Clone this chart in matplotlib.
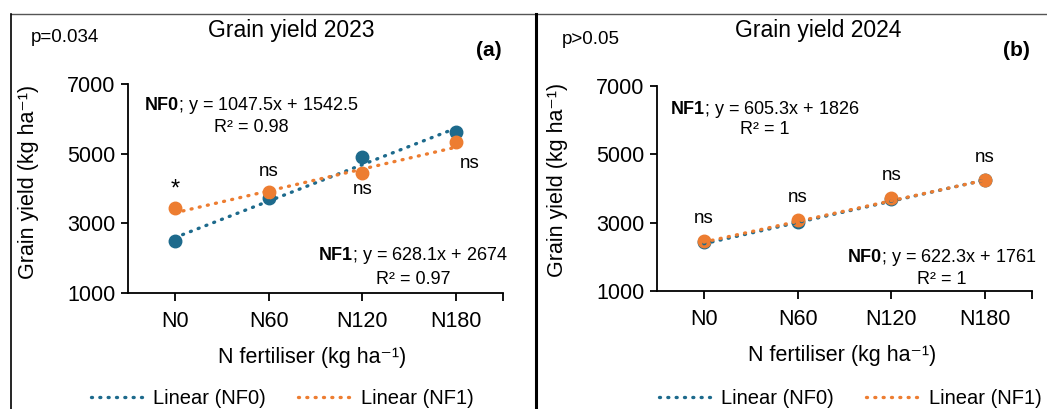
import matplotlib.pyplot as plt
from matplotlib.lines import Line2D
import numpy as np

plt.rcParams['font.family'] = ['Liberation Sans', 'DejaVu Sans']
plt.rcParams['mathtext.fontset'] = 'custom'
plt.rcParams['mathtext.rm'] = 'Liberation Sans'
plt.rcParams['mathtext.bf'] = 'Liberation Sans:bold'

# data
categories = ['N0', 'N60', 'N120', 'N180']
nf0_2023 = [2490, 3740, 4900, 5610]
nf1_2023 = [3440, 3890, 4450, 5330]
nf0_2024 = [2430, 3020, 3680, 4250]
nf1_2024 = [2470, 3080, 3720, 4260]

# trendline coefficients (slope, intercept) as printed on the chart
fit_nf0_2023 = (1047.5, 1542.5)
fit_nf1_2023 = (628.1, 2674)
fit_nf0_2024 = (622.3, 1761)
fit_nf1_2024 = (605.3, 1826)

sig_2023 = ['*', 'ns', 'ns', 'ns']
sig_2024 = ['ns', 'ns', 'ns', 'ns']

BLUE = '#1d6a8c'
ORANGE = '#ed7d31'

W, H = 1047, 409
fig = plt.figure(figsize=(W / 100, H / 100), dpi=100)


def px(x, y):
    return x / W, 1 - y / H


def draw_panel(ax, nf0, nf1, fit0, fit1):
    x = np.arange(1, len(categories) + 1)
    xx = np.array([x[0], x[-1]])
    dots = dict(lw=2.4, dashes=(0.3, 2.2), dash_capstyle='round')
    ax.plot(x, nf0, 'o', color=BLUE, ms=9, zorder=3)
    ax.plot(x, nf1, 'o', color=ORANGE, ms=9, zorder=4)
    ax.plot(xx, fit0[0] * xx + fit0[1], color=BLUE, zorder=5, **dots)
    ax.plot(xx, fit1[0] * xx + fit1[1], color=ORANGE, zorder=6, **dots)
    ax.set_xlim(0.5, 4.5)
    ax.set_ylim(1000, 7000)
    ax.set_yticks([1000, 3000, 5000, 7000])
    ax.set_xticks(x)
    ax.set_xticks([4.5], minor=True)
    ax.set_xticklabels(categories)
    for s in ['top', 'right']:
        ax.spines[s].set_visible(False)
    for s in ['left', 'bottom']:
        ax.spines[s].set_linewidth(1.3)
    ax.tick_params(axis='y', length=5, width=1.3, pad=4, labelsize=15.5)
    ax.tick_params(axis='x', which='both', length=6, width=1.3, pad=7, labelsize=15.5)
    ax.set_facecolor('none')


ax1 = fig.add_axes([128 / W, 116 / H, 375 / W, 209 / H])
draw_panel(ax1, nf0_2023, nf1_2023, fit_nf0_2023, fit_nf1_2023)
ax2 = fig.add_axes([657 / W, 118 / H, 375 / W, 205 / H])
draw_panel(ax2, nf0_2024, nf1_2024, fit_nf0_2024, fit_nf1_2024)

# significance labels (offsets in points)
off_2023 = [(0, 13), (0, 15), (0, -12), (10, -15)]
for i, (lab, off, yv) in enumerate(zip(sig_2023, off_2023, nf1_2023)):
    ax1.annotate(lab, (i + 1, yv), xytext=off, textcoords='offset points',
                 ha='center', va='center', fontsize=17 if lab == '*' else 13.5)
for i, (lab, yv) in enumerate(zip(sig_2024, nf1_2024)):
    ax2.annotate(lab, (i + 1, yv), xytext=(0, 16), textcoords='offset points',
                 ha='center', va='center', fontsize=13.5)

# equations
eq_fs = 13
eqs = [
    (251, 106, r'$\mathbf{NF0}$; y = 1047.5x + 1542.5', 128, 'R² = 0.98'),
    (413, 255, r'$\mathbf{NF1}$; y = 628.1x + 2674', 279, 'R² = 0.97'),
    (765, 109, r'$\mathbf{NF1}$; y = 605.3x + 1826', 130, 'R² = 1'),
    (942, 258, r'$\mathbf{NF0}$; y = 622.3x + 1761', 280, 'R² = 1'),
]
for cx, y1, t1, y2, t2 in eqs:
    fig.text(*px(cx, y1), t1, ha='center', va='center', fontsize=eq_fs)
    fig.text(*px(cx, y2), t2, ha='center', va='center', fontsize=eq_fs)

# titles and labels
fig.text(*px(291, 30), 'Grain yield 2023', ha='center', va='center', fontsize=16.5)
fig.text(*px(818, 30), 'Grain yield 2024', ha='center', va='center', fontsize=16.5)
fig.text(*px(31, 38), 'p=0.034', ha='left', va='center', fontsize=13.5)
fig.text(*px(562, 40), 'p>0.05', ha='left', va='center', fontsize=13.5)
fig.text(*px(502, 50), '(a)', ha='right', va='center', fontsize=15, fontweight='bold')
fig.text(*px(1030, 50), '(b)', ha='right', va='center', fontsize=15, fontweight='bold')

ylab = 'Grain yield (kg ha\u207b\u00b9)'
xlab = 'N fertiliser (kg ha\u207b\u00b9)'
fig.text(*px(29, 182), ylab, rotation=90, ha='center', va='center', fontsize=15.5)
fig.text(*px(558, 180), ylab, rotation=90, ha='center', va='center', fontsize=15.5)
fig.text(*px(312, 357), xlab, ha='center', va='center', fontsize=15.5)
fig.text(*px(842, 356), xlab, ha='center', va='center', fontsize=15.5)

# legends along the bottom edge
dots_leg = dict(lw=2.4, dashes=(0.3, 2.2), dash_capstyle='round')
handles = [Line2D([], [], color=BLUE, **dots_leg), Line2D([], [], color=ORANGE, **dots_leg)]
labels = ['Linear (NF0)', 'Linear (NF1)']
for cx in (282, 850):
    fig.legend(handles, labels, loc='center', bbox_to_anchor=px(cx, 399), ncol=2,
               frameon=False, fontsize=14.5, handlelength=2.8, columnspacing=1.6,
               handletextpad=0.3, borderpad=0, borderaxespad=0)

# panel frames
fig.add_artist(Line2D([11 / W, 1], [1 - 14 / H, 1 - 14 / H], color='#555555', lw=1.0))
fig.add_artist(Line2D([11 / W, 11 / W], [0, 1 - 14 / H], color='black', lw=1.2))
fig.add_artist(Line2D([536 / W, 536 / W], [0, 1 - 14 / H], color='black', lw=2.2))

fig.savefig('out.png', dpi=100)
